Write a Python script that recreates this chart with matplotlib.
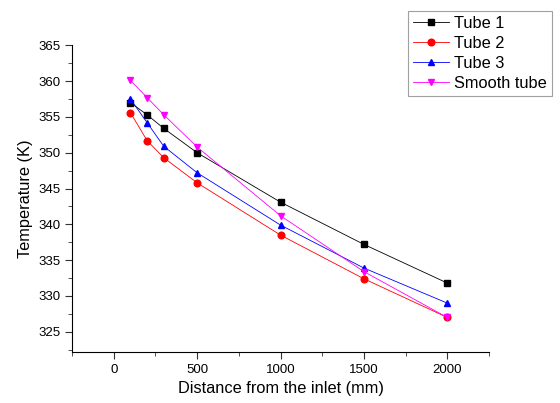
import matplotlib
matplotlib.use("Agg")
import matplotlib.pyplot as plt
from matplotlib.ticker import MultipleLocator

plt.rcParams['font.family'] = ['Liberation Sans', 'DejaVu Sans']

# datos
distancia = [100, 200, 300, 500, 1000, 1500, 2000]
tubo1 = [357.0, 355.3, 353.4, 350.0, 343.1, 337.2, 331.8]
tubo2 = [355.6, 351.7, 349.3, 345.8, 338.5, 332.4, 327.0]
tubo3 = [357.5, 354.2, 350.9, 347.2, 339.9, 333.9, 329.0]
liso = [360.1, 357.7, 355.3, 350.8, 341.2, 333.4, 327.0]

series = [
    ("Tube 1", tubo1, "black", "s"),
    ("Tube 2", tubo2, "red", "o"),
    ("Tube 3", tubo3, "blue", "^"),
    ("Smooth tube", liso, "magenta", "v"),
]

fig = plt.figure(figsize=(5.6, 4.03), dpi=100)
ax = fig.add_axes([0.1286, 0.127, 0.7446, 0.7606])

for nombre, valores, color, marcador in series:
    ax.plot(distancia, valores, color=color, marker=marcador, markersize=4.8,
            linewidth=0.6, label=nombre)

ax.set_xlim(-250, 2250)
ax.set_ylim(322.2, 365)
ax.xaxis.set_major_locator(MultipleLocator(500))
ax.xaxis.set_minor_locator(MultipleLocator(250))
ax.yaxis.set_major_locator(MultipleLocator(5))
ax.yaxis.set_minor_locator(MultipleLocator(2.5))

for lado in ['top', 'right']:
    ax.spines[lado].set_visible(False)
ax.tick_params(axis='both', which='major', direction='out', length=5, labelsize=9.5, color='#333333')
ax.tick_params(axis='both', which='minor', direction='out', length=3, color='#333333')

ax.set_xlabel('Distance from the inlet (mm)', fontsize=11.8)
ax.set_ylabel('Temperature (K)', fontsize=11.8)

leg = ax.legend(loc='upper left', bbox_to_anchor=(0.806, 1.112), fontsize=11.8,
                frameon=True, fancybox=False, edgecolor='#888888',
                borderpad=0.3, labelspacing=0.3, handlelength=2.2,
                handletextpad=0.3, borderaxespad=0)
leg.get_frame().set_linewidth(0.8)

plt.savefig("out.png", dpi=100)
